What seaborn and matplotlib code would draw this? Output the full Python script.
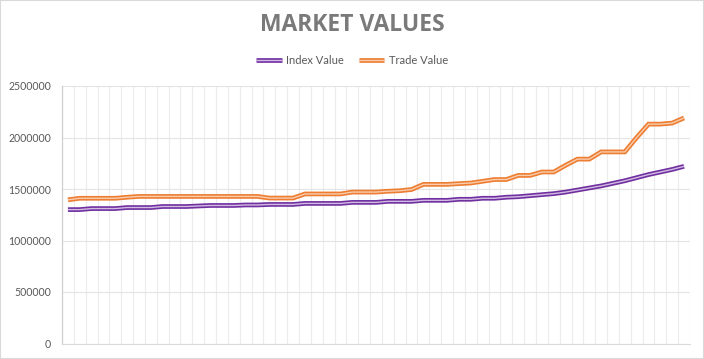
import numpy as np
import pandas as pd
import matplotlib
matplotlib.use("Agg")
import matplotlib.pyplot as plt
import matplotlib.patheffects as pe
from matplotlib.patches import Rectangle
import seaborn as sns

# ---- data ----
index_value = [
    1300000, 1300000, 1310000, 1310000, 1310000, 1320000, 1320000, 1320000,
    1330000, 1330000, 1330000, 1335000, 1340000, 1340000, 1340000, 1345000,
    1345000, 1350000, 1350000, 1350000, 1360000, 1360000, 1360000, 1360000,
    1370000, 1370000, 1370000, 1380000, 1380000, 1380000, 1390000, 1390000,
    1390000, 1400000, 1400000, 1410000, 1410000, 1420000, 1425000, 1435000,
    1445000, 1455000, 1470000, 1490000, 1510000, 1530000, 1555000, 1580000,
    1610000, 1640000, 1665000, 1690000, 1720000,
]
trade_value = [
    1395000, 1410000, 1410000, 1410000, 1410000, 1420000, 1428000, 1428000,
    1428000, 1428000, 1428000, 1428000, 1428000, 1428000, 1428000, 1428000,
    1428000, 1412000, 1412000, 1412000, 1452000, 1452000, 1452000, 1452000,
    1470000, 1470000, 1470000, 1478000, 1483000, 1495000, 1545000, 1545000,
    1545000, 1552000, 1558000, 1575000, 1592000, 1592000, 1632000, 1632000,
    1665000, 1665000, 1730000, 1790000, 1790000, 1860000, 1860000, 1860000,
    2000000, 2130000, 2130000, 2140000, 2190000,
]
series_names = ["Index Value", "Trade Value"]
y_ticks = [0, 500000, 1000000, 1500000, 2000000, 2500000]
title = "MARKET VALUES"

n = len(index_value)
df = pd.DataFrame({
    "idx": list(range(n)) * 2,
    "value": index_value + trade_value,
    "series": [series_names[0]] * n + [series_names[1]] * n,
})

dark = {"Index Value": "#7030A0", "Trade Value": "#ED7D31"}
light = {"Index Value": "#D2BCE3", "Trade Value": "#F9CDAE"}

sns.set_theme(style="white")
plt.rcParams["font.family"] = ["Lato", "DejaVu Sans"]

W, H = 704, 359
fig = plt.figure(figsize=(W / 100, H / 100), dpi=100)
ax = fig.add_axes([62 / W, (H - 343.5) / H, (690 - 62) / W, (343.5 - 86) / H])

for name in series_names:
    sub = df[df["series"] == name]
    sns.lineplot(data=sub, x="idx", y="value", ax=ax, color=light[name],
                 linewidth=1.0, label=name, legend=False)
for line in ax.lines:
    name = line.get_label()
    if name in dark:
        line.set_path_effects([pe.Stroke(linewidth=3.4, foreground=dark[name]),
                               pe.Normal()])
        line.set_solid_joinstyle("miter")
        line.set_solid_capstyle("butt")

ax.set_xlim(-0.5, n - 0.5)
ax.set_ylim(0, 2500000)
ax.set_yticks(y_ticks)
ax.set_yticklabels([str(v) for v in y_ticks])
ax.set_xticks([])
for b in np.arange(-0.5, n, 1.0):
    ax.axvline(b, color="#ececec", linewidth=0.8, zorder=0)
for t in y_ticks:
    ax.axhline(t, color="#e4e4e4", linewidth=0.8, zorder=0)
ax.set_xlabel("")
ax.set_ylabel("")
ax.tick_params(axis="y", length=0, pad=8, labelsize=7.6, labelcolor="#595959")
for s in ["top", "right"]:
    ax.spines[s].set_visible(False)
ax.spines["left"].set_color("#d0d0d0")
ax.spines["left"].set_linewidth(0.9)
ax.spines["bottom"].set_color("#d9d9d9")
ax.spines["bottom"].set_linewidth(0.8)

h, l = ax.get_legend_handles_labels()
fig.legend(h, l, loc="center", bbox_to_anchor=(0.5, (H - 60) / H), ncol=2,
           frameon=False, fontsize=8, labelcolor="#595959", handlelength=2.3,
           columnspacing=1.3, handletextpad=0.4)

fig.text(0.5, (H - 25) / H, title, ha="center", va="center", fontsize=16.5,
         fontweight="bold", color="#7a7a7a", family=["Open Sans", "DejaVu Sans"])

fig.patches.append(Rectangle((0, 0), 1, 1, transform=fig.transFigure, fill=False,
                             edgecolor="#d9d9d9", linewidth=1.5))
fig.savefig("out.png", dpi=100, facecolor="white")
